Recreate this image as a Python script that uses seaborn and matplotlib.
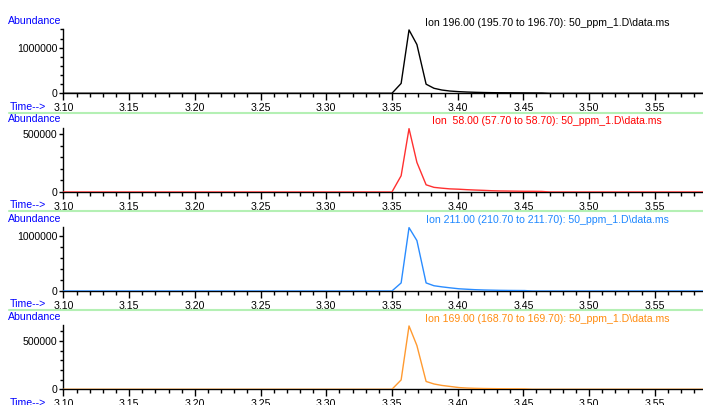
import matplotlib
matplotlib.use("Agg")
import matplotlib.pyplot as plt
import pandas as pd
import seaborn as sns
from matplotlib.lines import Line2D
from matplotlib.ticker import MultipleLocator, FormatStrFormatter

# retention time (min), shared by all four extracted ion chromatograms
time_min = [3.090, 3.344, 3.350, 3.357, 3.363, 3.369, 3.376, 3.382, 3.388, 3.394,
            3.401, 3.407, 3.413, 3.420, 3.426, 3.432, 3.439, 3.445, 3.451, 3.457,
            3.464, 3.470, 3.600]

ion_196 = [0, 0, 0, 217000, 1390000, 1070000, 200000, 110000, 72000, 50000,
           36000, 28000, 22000, 17000, 14000, 12000, 11000, 10000, 9000, 8000,
           7000, 0, 0]
ion_58 = [0, 0, 0, 140000, 546000, 255000, 62000, 40000, 33000, 27000,
          24000, 20000, 17000, 14000, 11000, 9000, 8000, 7000, 6000, 6000,
          5000, 0, 0]
ion_211 = [0, 0, 0, 146000, 1146000, 912000, 146000, 95000, 75000, 58000,
           40000, 32000, 24000, 18000, 15000, 12000, 10000, 9000, 8000, 0,
           0, 0, 0]
ion_169 = [0, 0, 0, 97000, 655000, 452000, 81000, 55000, 40000, 30000,
           18000, 13000, 10000, 8000, 7000, 6000, 5000, 5000, 4000, 0,
           0, 0, 0]

series = [ion_196, ion_58, ion_211, ion_169]
titles = ["Ion 196.00 (195.70 to 196.70): 50_ppm_1.D\\data.ms",
          "Ion  58.00 (57.70 to 58.70): 50_ppm_1.D\\data.ms",
          "Ion 211.00 (210.70 to 211.70): 50_ppm_1.D\\data.ms",
          "Ion 169.00 (168.70 to 169.70): 50_ppm_1.D\\data.ms"]
y_major = [1000000, 500000, 1000000, 500000]
trace_colors = ["#000000", "#ff3030", "#2a8cff", "#ff9a30"]
title_colors = ["#000000", "#ff0000", "#1e88ff", "#ff8c10"]

sns.set_style("white")
plt.rcParams["font.family"] = ["Liberation Sans", "DejaVu Sans"]
fs = 7.6
blue = "#0000ff"

W, H = 703, 405
fig = plt.figure(figsize=(W / 100, H / 100), dpi=100)

zero_px = [93.3, 192.0, 291.0, 389.3]

for i, vals in enumerate(series):
    z = zero_px[i]
    ax = fig.add_axes([63 / W, (H - z) / H, 640 / W, 64 / H])
    df = pd.DataFrame({"time": time_min, "abundance": vals})
    sns.lineplot(data=df, x="time", y="abundance", ax=ax,
                 color=trace_colors[i], linewidth=1, zorder=3)
    ax.set_xlim(3.0997, 3.5867)
    ax.set_ylim(0, max(vals) * 1.01)
    ax.set_xlabel("")
    ax.set_ylabel("")
    ax.patch.set_alpha(0)
    for side in ["top", "right"]:
        ax.spines[side].set_visible(False)
    for side in ["left", "bottom"]:
        ax.spines[side].set_color("black")
        ax.spines[side].set_linewidth(1)

    ax.xaxis.set_major_locator(MultipleLocator(0.05))
    ax.xaxis.set_minor_locator(MultipleLocator(0.01))
    ax.xaxis.set_major_formatter(FormatStrFormatter("%.2f"))
    ax.yaxis.set_major_locator(MultipleLocator(y_major[i]))
    ax.yaxis.set_minor_locator(MultipleLocator(y_major[i] / 5))
    ax.yaxis.set_major_formatter(FormatStrFormatter("%d"))

    ax.tick_params(axis="x", which="major", bottom=True, direction="out",
                   length=5, width=1, pad=2, colors="black", labelsize=fs)
    ax.tick_params(axis="x", which="minor", bottom=True, direction="out",
                   length=3, width=1, colors="black")
    ax.tick_params(axis="y", which="major", left=True, direction="out",
                   length=3, width=1, pad=1, colors="black", labelsize=fs)
    ax.tick_params(axis="y", which="minor", left=True, direction="out",
                   length=2, width=1, colors="black")

    fig.text(8 / W, 1 - (z - 72.5) / H, "Abundance", color=blue,
             ha="left", va="center", fontsize=fs)
    fig.text(10 / W, 1 - (z + 13.2) / H, "Time-->", color=blue,
             ha="left", va="center", fontsize=fs)
    fig.text(547 / W, 1 - (z - 70.5) / H, titles[i], color=title_colors[i],
             ha="center", va="center", fontsize=fs)

# light green separators between the panels
for y in [112.5, 211.0, 309.5]:
    fig.add_artist(Line2D([9 / W, 1], [1 - y / H, 1 - y / H],
                          transform=fig.transFigure, color="#b4f0b4", lw=1.5))

fig.savefig("out.png", dpi=100)
